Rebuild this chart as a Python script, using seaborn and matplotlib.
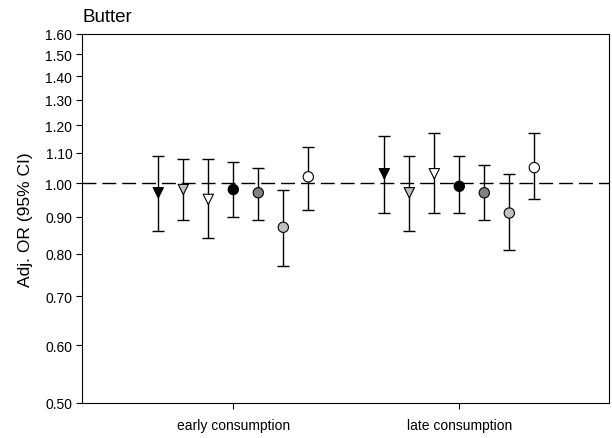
import matplotlib
matplotlib.use("Agg")
import matplotlib.pyplot as plt
from matplotlib.ticker import FormatStrFormatter, NullLocator, FixedLocator
import seaborn as sns
import pandas as pd
import numpy as np

# ---- data ----
groups = ["early consumption", "late consumption"]
series = ["s1", "s2", "s3", "s4", "s5", "s6", "s7"]
early_or = [0.97, 0.98, 0.95, 0.98, 0.97, 0.87, 1.02]
early_lo = [0.86, 0.89, 0.84, 0.90, 0.89, 0.77, 0.92]
early_hi = [1.09, 1.08, 1.08, 1.07, 1.05, 0.98, 1.12]
late_or = [1.03, 0.97, 1.03, 0.99, 0.97, 0.91, 1.05]
late_lo = [0.91, 0.86, 0.91, 0.91, 0.89, 0.81, 0.95]
late_hi = [1.16, 1.09, 1.17, 1.09, 1.06, 1.03, 1.17]
yticks = [0.50, 0.60, 0.70, 0.80, 0.90, 1.00, 1.10, 1.20, 1.30, 1.40, 1.50, 1.60]

# ---- styles ----
face_colors = ["#000000", "#c0c0c0", "#ffffff", "#000000", "#808080", "#c0c0c0", "#ffffff"]
marker_shapes = ["v", "v", "v", "o", "o", "o", "o"]

rows = []
for gi, (g, ors, los, his) in enumerate(zip(groups, [early_or, late_or], [early_lo, late_lo], [early_hi, late_hi])):
    for si, s in enumerate(series):
        rows.append({"group": g, "series": s, "gpos": gi + 1, "sidx": si,
                     "or": ors[si], "lo": los[si], "hi": his[si]})
df = pd.DataFrame(rows)
offset = 25 / 226
df["x"] = df["gpos"] + (df["sidx"] - 3) * offset

sns.set_style("ticks")
plt.rcParams["font.family"] = ["Liberation Sans", "DejaVu Sans"]
plt.rcParams["text.color"] = "black"
plt.rcParams["axes.labelcolor"] = "black"

fig = plt.figure(figsize=(6.12, 4.39), dpi=100)
ax = fig.add_axes([82 / 612, 1 - 404 / 439, (609 - 82) / 612, (404 - 35) / 439])

ax.set_yscale("log")

ax.axhline(1.0, color="black", lw=1.0, ls=(0, (10, 4.3)), zorder=1)

ax.errorbar(df["x"], df["or"], yerr=[df["or"] - df["lo"], df["hi"] - df["or"]],
            fmt="none", ecolor="black", elinewidth=1.0, capsize=4, capthick=1.0, zorder=2)

sns.scatterplot(data=df, x="x", y="or", hue="series", style="series",
                palette=dict(zip(series, face_colors)),
                markers=dict(zip(series, marker_shapes)),
                s=55, edgecolor="black", linewidth=0.8, legend=False, ax=ax, zorder=3)

ax.set_ylim(0.50, 1.60)
ax.yaxis.set_major_locator(FixedLocator(yticks))
ax.yaxis.set_minor_locator(NullLocator())
ax.yaxis.set_major_formatter(FormatStrFormatter("%.2f"))
ax.set_xlim(1 - (233.3 - 82) / 226, 2 + (609 - 459.3) / 226)
ax.set_xticks([1, 2])
ax.set_xticklabels(groups)

ax.tick_params(axis="both", direction="out", length=4, width=0.8, colors="black",
               labelsize=10, pad=3)
ax.tick_params(axis="x", pad=7)
for sp in ax.spines.values():
    sp.set_visible(True)
    sp.set_color("black")
    sp.set_linewidth(0.8)

ax.set_xlabel("")
ax.set_ylabel("Adj. OR (95% CI)", fontsize=12.5, labelpad=9, color="black")
ax.set_title("Butter", loc="left", fontsize=13.5, pad=9, color="black")

fig.savefig("out.png", dpi=100)
